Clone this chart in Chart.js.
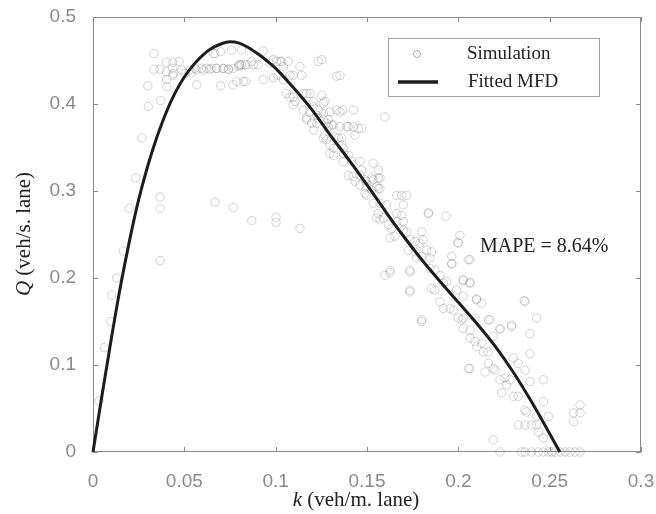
<!DOCTYPE html>
<html>
<head>
<meta charset="utf-8">
<script src="https://cdn.jsdelivr.net/npm/chart.js@4/dist/chart.umd.min.js"></script>
<style>
  html, body { margin: 0; padding: 0; background: #fff; }
  #wrap { width: 656px; height: 514px; }
</style>
</head>
<body>
<div id="wrap"><canvas id="mfd" width="656" height="514"></canvas></div>
<script>
// simulated (k, Q) samples
var simK = [
  0.0033, 0.0062, 0.0099, 0.0102, 0.0130, 0.0166, 0.0199, 0.0234, 0.0267, 0.0303,
  0.0300, 0.0334, 0.0334, 0.0367, 0.0370, 0.0367, 0.0367, 0.0367, 0.0403, 0.0403,
  0.0403, 0.0403, 0.0436, 0.0436, 0.0440, 0.0436, 0.0471, 0.0486, 0.0504, 0.0531,
  0.0540, 0.0558, 0.0568, 0.0568, 0.0595, 0.0604, 0.0622, 0.0639, 0.0650, 0.0659,
  0.0668, 0.0675, 0.0677, 0.0699, 0.0699, 0.0712, 0.0713, 0.0741, 0.0743, 0.0759,
  0.0765, 0.0768, 0.0787, 0.0797, 0.0800, 0.0805, 0.0814, 0.0814, 0.0823, 0.0832,
  0.0836, 0.0845, 0.0869, 0.0878, 0.0905, 0.0932, 0.0932, 0.0969, 0.0987, 0.0987,
  0.1005, 0.1014, 0.1024, 0.1033, 0.1042, 0.1042, 0.1060, 0.1069, 0.1078, 0.1078,
  0.1096, 0.1096, 0.1106, 0.1133, 0.1142, 0.1151, 0.1151, 0.1170, 0.1170, 0.1188,
  0.1188, 0.1197, 0.1206, 0.1206, 0.1225, 0.1225, 0.1233, 0.1233, 0.1233, 0.1252,
  0.1252, 0.1261, 0.1261, 0.1261, 0.1261, 0.1270, 0.1279, 0.1279, 0.1288, 0.1297,
  0.1297, 0.1297, 0.1307, 0.1316, 0.1316, 0.1316, 0.1325, 0.1334, 0.1334, 0.1343,
  0.1352, 0.1352, 0.1352, 0.1361, 0.1361, 0.1367, 0.1370, 0.1370, 0.1370, 0.1389,
  0.1398, 0.1398, 0.1398, 0.1416, 0.1425, 0.1425, 0.1425, 0.1434, 0.1434, 0.1452,
  0.1462, 0.1462, 0.1462, 0.1470, 0.1470, 0.1489, 0.1489, 0.1498, 0.1498, 0.1498,
  0.1526, 0.1526, 0.1534, 0.1534, 0.1534, 0.1553, 0.1553, 0.1562, 0.1562, 0.1562,
  0.1562, 0.1571, 0.1571, 0.1571, 0.1571, 0.1589, 0.1598, 0.1598, 0.1608, 0.1617,
  0.1626, 0.1626, 0.1626, 0.1635, 0.1653, 0.1663, 0.1663, 0.1663, 0.1690, 0.1690,
  0.1699, 0.1699, 0.1699, 0.1717, 0.1717, 0.1726, 0.1735, 0.1735, 0.1735, 0.1735,
  0.1735, 0.1763, 0.1763, 0.1772, 0.1790, 0.1799, 0.1799, 0.1799, 0.1799, 0.1808,
  0.1827, 0.1836, 0.1836, 0.1845, 0.1845, 0.1854, 0.1854, 0.1872, 0.1872, 0.1900,
  0.1900, 0.1918, 0.1918, 0.1932, 0.1936, 0.1954, 0.1964, 0.1964, 0.1964, 0.1973,
  0.1991, 0.1997, 0.2000, 0.2000, 0.2009, 0.2018, 0.2027, 0.2027, 0.2027, 0.2027,
  0.2027, 0.2055, 0.2055, 0.2064, 0.2064, 0.2064, 0.2064, 0.2064, 0.2064, 0.2091,
  0.2091, 0.2100, 0.2100, 0.2100, 0.2128, 0.2128, 0.2137, 0.2146, 0.2164, 0.2164,
  0.2164, 0.2173, 0.2191, 0.2191, 0.2191, 0.2201, 0.2228, 0.2228, 0.2228, 0.2228,
  0.2237, 0.2255, 0.2265, 0.2283, 0.2292, 0.2292, 0.2301, 0.2301, 0.2328, 0.2328,
  0.2328, 0.2347, 0.2360, 0.2365, 0.2365, 0.2365, 0.2365, 0.2365, 0.2374, 0.2392,
  0.2392, 0.2392, 0.2401, 0.2401, 0.2429, 0.2429, 0.2429, 0.2438, 0.2438, 0.2465,
  0.2465, 0.2465, 0.2465, 0.2493, 0.2493, 0.2511, 0.2529, 0.2557, 0.2584, 0.2611,
  0.2630, 0.2630, 0.2639, 0.2666, 0.2666, 0.2666, 0.0668, 0.0768, 0.0869, 0.1002,
  0.1002, 0.1133, 0.1096, 0.1170, 0.1206, 0.1270, 0.1288
];
var simQ = [
  0.059, 0.120, 0.150, 0.180, 0.200, 0.231, 0.280, 0.315, 0.361, 0.397,
  0.421, 0.458, 0.440, 0.440, 0.404, 0.293, 0.280, 0.220, 0.448, 0.437,
  0.428, 0.420, 0.448, 0.441, 0.435, 0.433, 0.449, 0.439, 0.435, 0.439,
  0.436, 0.441, 0.439, 0.422, 0.441, 0.439, 0.441, 0.440, 0.441, 0.458,
  0.458, 0.441, 0.441, 0.460, 0.421, 0.441, 0.441, 0.440, 0.440, 0.462,
  0.422, 0.441, 0.426, 0.443, 0.445, 0.445, 0.462, 0.445, 0.426, 0.445,
  0.426, 0.445, 0.449, 0.445, 0.445, 0.461, 0.428, 0.447, 0.451, 0.430,
  0.449, 0.433, 0.449, 0.449, 0.443, 0.428, 0.412, 0.449, 0.433, 0.408,
  0.433, 0.399, 0.403, 0.443, 0.433, 0.412, 0.393, 0.384, 0.382, 0.412,
  0.391, 0.378, 0.403, 0.370, 0.387, 0.378, 0.449, 0.393, 0.384, 0.410,
  0.451, 0.401, 0.389, 0.382, 0.361, 0.403, 0.378, 0.359, 0.374, 0.391,
  0.353, 0.343, 0.376, 0.376, 0.349, 0.341, 0.362, 0.393, 0.432, 0.361,
  0.433, 0.391, 0.374, 0.361, 0.353, 0.393, 0.349, 0.343, 0.334, 0.374,
  0.374, 0.341, 0.318, 0.334, 0.393, 0.374, 0.317, 0.364, 0.311, 0.372,
  0.334, 0.318, 0.307, 0.372, 0.324, 0.313, 0.297, 0.305, 0.311, 0.295,
  0.315, 0.301, 0.332, 0.313, 0.286, 0.305, 0.269, 0.324, 0.315, 0.303,
  0.274, 0.315, 0.303, 0.286, 0.267, 0.269, 0.385, 0.203, 0.284, 0.261,
  0.246, 0.209, 0.206, 0.257, 0.248, 0.295, 0.274, 0.265, 0.295, 0.272,
  0.284, 0.265, 0.255, 0.295, 0.253, 0.232, 0.244, 0.209, 0.207, 0.184,
  0.186, 0.242, 0.230, 0.223, 0.240, 0.253, 0.225, 0.152, 0.150, 0.244,
  0.232, 0.275, 0.274, 0.223, 0.211, 0.230, 0.188, 0.209, 0.186, 0.203,
  0.173, 0.194, 0.165, 0.271, 0.196, 0.165, 0.225, 0.217, 0.216, 0.163,
  0.186, 0.241, 0.240, 0.154, 0.249, 0.152, 0.198, 0.197, 0.179, 0.154,
  0.142, 0.221, 0.096, 0.221, 0.195, 0.194, 0.140, 0.131, 0.096, 0.154,
  0.127, 0.175, 0.176, 0.121, 0.171, 0.125, 0.115, 0.092, 0.152, 0.115,
  0.102, 0.152, 0.133, 0.096, 0.014, 0.094, 0.142, 0.141, 0.083, 0.000,
  0.068, 0.085, 0.077, 0.083, 0.146, 0.144, 0.108, 0.064, 0.102, 0.064,
  0.031, 0.000, 0.174, 0.173, 0.094, 0.048, 0.031, 0.000, 0.046, 0.136,
  0.113, 0.081, 0.031, 0.000, 0.154, 0.041, 0.031, 0.023, 0.000, 0.083,
  0.058, 0.016, 0.000, 0.041, 0.000, 0.000, 0.000, 0.000, 0.000, 0.000,
  0.045, 0.035, 0.000, 0.054, 0.045, 0.000, 0.287, 0.281, 0.266, 0.270,
  0.264, 0.257, 0.408, 0.412, 0.397, 0.364, 0.382
];

// fitted MFD curve
var fitK = [0, 0.005, 0.01, 0.015, 0.02, 0.025, 0.03, 0.035, 0.04, 0.045, 0.05, 0.055,
  0.06, 0.065, 0.07, 0.075, 0.08, 0.085, 0.09, 0.095, 0.1, 0.11, 0.12, 0.13, 0.14,
  0.15, 0.16, 0.17, 0.18, 0.19, 0.2, 0.21, 0.22, 0.23, 0.24, 0.25, 0.2556];
var fitQ = [0, 0.066, 0.13, 0.19, 0.243, 0.29, 0.329, 0.362, 0.39, 0.413, 0.431, 0.445,
  0.456, 0.464, 0.469, 0.4715, 0.47, 0.465, 0.458, 0.45, 0.441, 0.418, 0.393, 0.364, 0.336,
  0.307, 0.277, 0.248, 0.221, 0.196, 0.172, 0.148, 0.122, 0.092, 0.058, 0.021, 0];

var xTicks = [0, 0.05, 0.1, 0.15, 0.2, 0.25, 0.3];
var yTicks = [0, 0.1, 0.2, 0.3, 0.4, 0.5];
var seriesNames = ["Simulation", "Fitted MFD"];
var noteText = "MAPE = 8.64%";

var simPts = simK.map(function (k, i) { return { x: k, y: simQ[i] }; });
var fitPts = fitK.map(function (k, i) { return { x: k, y: fitQ[i] }; });

var axisGray = "#8c8c8c";
var serif = "'Liberation Serif', 'DejaVu Serif', serif";

// frame, inward ticks, legend, axis titles and the note
var decor = {
  id: "decor",
  beforeDatasetsDraw: function (chart) {
    var ctx = chart.ctx, a = chart.chartArea;
    var sx = chart.scales.x, sy = chart.scales.y;
    ctx.save();
    ctx.strokeStyle = axisGray;
    ctx.lineWidth = 1;
    ctx.strokeRect(Math.round(a.left) + 0.5, Math.round(a.top) + 0.5,
      Math.round(a.right - a.left) - 1, Math.round(a.bottom - a.top) - 1);
    ctx.beginPath();
    xTicks.forEach(function (v) {
      var px = Math.round(sx.getPixelForValue(v)) + 0.5;
      ctx.moveTo(px, a.bottom); ctx.lineTo(px, a.bottom - 5);
      ctx.moveTo(px, a.top); ctx.lineTo(px, a.top + 5);
    });
    yTicks.forEach(function (v) {
      var py = Math.round(sy.getPixelForValue(v)) + 0.5;
      ctx.moveTo(a.left, py); ctx.lineTo(a.left + 5, py);
      ctx.moveTo(a.right, py); ctx.lineTo(a.right - 5, py);
    });
    ctx.stroke();
    ctx.restore();
  },
  afterDraw: function (chart) {
    var ctx = chart.ctx;
    ctx.save();
    // legend box
    ctx.fillStyle = "#fff";
    ctx.fillRect(388, 38, 211, 58);
    ctx.strokeStyle = "#a0a0a0";
    ctx.lineWidth = 1;
    ctx.strokeRect(388.5, 38.5, 211, 58);
    ctx.strokeStyle = "rgba(100,100,100,0.55)";
    ctx.beginPath();
    ctx.arc(417, 54, 3.5, 0, Math.PI * 2);
    ctx.stroke();
    ctx.strokeStyle = "#1c1c1c";
    ctx.lineWidth = 3.5;
    ctx.beginPath();
    ctx.moveTo(398, 82); ctx.lineTo(438, 82);
    ctx.stroke();
    ctx.fillStyle = "#222";
    ctx.font = "19px " + serif;
    ctx.textBaseline = "middle";
    ctx.textAlign = "left";
    ctx.fillText(seriesNames[0], 467, 54);
    ctx.fillText(seriesNames[1], 468, 82);

    // note
    ctx.font = "20px " + serif;
    ctx.textBaseline = "alphabetic";
    ctx.fillText(noteText, 480, 252);

    // axis titles with italic symbols
    function title(sym, rest, cx, cy, rot) {
      ctx.save();
      ctx.translate(cx, cy);
      if (rot) ctx.rotate(-Math.PI / 2);
      ctx.font = "italic 21px " + serif;
      var w1 = ctx.measureText(sym).width;
      ctx.font = "21px " + serif;
      var w2 = ctx.measureText(rest).width;
      var x0 = -(w1 + w2) / 2;
      ctx.textBaseline = "middle";
      ctx.textAlign = "left";
      ctx.font = "italic 21px " + serif;
      ctx.fillText(sym, x0, 0);
      ctx.font = "21px " + serif;
      ctx.fillText(rest, x0 + w1, 0);
      ctx.restore();
    }
    ctx.fillStyle = "#222";
    title("k", " (veh/m. lane)", 356, 500, false);
    title("Q", " (veh/s. lane)", 24, 234, true);
    ctx.restore();
  }
};

var ctx = document.getElementById("mfd").getContext("2d");
var chart = new Chart(ctx, {
  type: "scatter",
  data: {
    datasets: [
      {
        label: seriesNames[0],
        data: simPts,
        pointRadius: 4.2,
        pointHoverRadius: 4.2,
        pointBackgroundColor: "rgba(0,0,0,0)",
        pointBorderColor: "rgba(100,100,100,0.28)",
        pointBorderWidth: 1,
        clip: false,
        order: 2,
      },
      {
        type: "line",
        label: seriesNames[1],
        data: fitPts,
        borderColor: "#1c1c1c",
        borderWidth: 3,
        pointRadius: 0,
        fill: false,
        cubicInterpolationMode: "monotone",
        clip: false,
        order: 1,
      },
    ],
  },
  options: {
    responsive: false,
    animation: false,
    events: [],
    layout: { padding: { top: 17, right: 15, left: 0, bottom: 0 } },
    plugins: { legend: { display: false }, tooltip: { enabled: false } },
    scales: {
      x: {
        type: "linear",
        min: 0,
        max: 0.3,
        afterBuildTicks: function (s) { s.ticks = xTicks.map(function (v) { return { value: v }; }); },
        afterFit: function (s) { s.height = 62; s.paddingLeft = 0; s.paddingRight = 0; },
        grid: { display: false },
        border: { display: false },
        ticks: {
          color: "#8a8a8a",
          padding: 10,
          maxRotation: 0,
          font: { family: "'Liberation Sans', Arial, sans-serif", size: 19 },
          callback: function (v) { return String(+v.toFixed(2)); },
        },
      },
      y: {
        type: "linear",
        min: 0,
        max: 0.5,
        afterBuildTicks: function (s) { s.ticks = yTicks.map(function (v) { return { value: v }; }); },
        afterFit: function (s) { s.width = 93; s.paddingTop = 0; s.paddingBottom = 0; },
        grid: { display: false },
        border: { display: false },
        ticks: {
          color: "#8a8a8a",
          padding: 9,
          font: { family: "'Liberation Sans', Arial, sans-serif", size: 19 },
          callback: function (v) { return String(+v.toFixed(1)); },
        },
      },
    },
  },
  plugins: [decor],
});
</script>
</body>
</html>
